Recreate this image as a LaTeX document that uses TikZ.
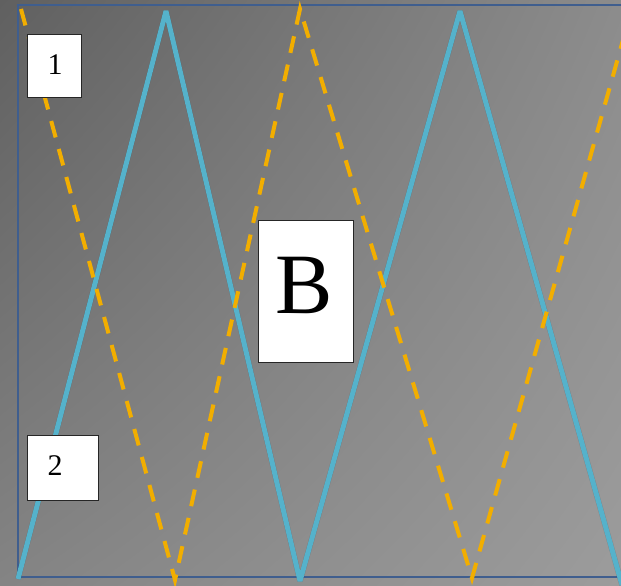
\documentclass[tikz,border=0pt]{standalone}
\usepackage{fontspec}
\setmainfont{Liberation Serif}
\usetikzlibrary{shadings}
\definecolor{zigblue}{HTML}{55B2CB}
\definecolor{zigorange}{HTML}{F2AE00}
\definecolor{framecol}{HTML}{3F5E8E}
\definecolor{bgUL}{RGB}{96,96,96}
\definecolor{bgUR}{RGB}{140,140,140}
\definecolor{bgLL}{RGB}{132,132,132}
\definecolor{bgLR}{RGB}{156,156,156}
\tikzset{
  whitebox/.style={draw=black!85, line width=1.3pt, fill=white, anchor=north west, inner sep=0pt},
  bluezig/.style={draw=zigblue, line width=5pt, line join=bevel},
  orangezig/.style={draw=zigorange, line width=4pt, dash pattern=on 17pt off 12pt},
  framestyle/.style={draw=framecol, line width=2.2pt},
  lbl/.style={inner sep=0pt, font=\fontsize{30}{30}\selectfont}
}
\begin{document}
\begin{tikzpicture}[x=1pt,y=-1pt]
\useasboundingbox (0,0) rectangle (621,586);
\clip (0,0) rectangle (621,586);
\shade[upper left=bgUL, upper right=bgUR, lower left=bgLL, lower right=bgLR]
  (0,0) rectangle (621,586);
% frame
\coordinate (f1) at (640,5);
\coordinate (f2) at (18,5);
\coordinate (f3) at (18,577);
\coordinate (f4) at (640,577);
\draw[framestyle] (f1) -- (f2) -- (f3) -- (f4);
% blue zigzag
\coordinate (b0) at (18,579);
\coordinate (b1) at (166,11);
\coordinate (b2) at (300,581);
\coordinate (b3) at (460,11);
\coordinate (b4) at (622,585);
\draw[black, opacity=0.15, line width=5.5pt, line join=bevel, xshift=1.5pt, yshift=-1.5pt] (b0) -- (b1) -- (b2) -- (b3) -- (b4);
\draw[bluezig] (b0) -- (b1) -- (b2) -- (b3) -- (b4);
% orange dashed zigzag
\coordinate (o0) at (21,9);
\coordinate (o1) at (175,580);
\coordinate (o2) at (300,9);
\coordinate (o3) at (472,578);
\coordinate (o4) at (632,8);
\draw[orangezig] (o0) -- (o1) -- (o2) -- (o3) -- (o4);
% boxes
\node[whitebox, minimum width=54pt, minimum height=63pt] (box1) at (27,34) {};
\node[lbl] (t1) at (55,65) {1};
\node[whitebox, minimum width=71pt, minimum height=65pt] (box2) at (27,435) {};
\node[lbl] (t2) at (55,466) {2};
\node[whitebox, minimum width=95pt, minimum height=142pt] (boxB) at (258,220) {};
\node[inner sep=0pt, font=\fontsize{86}{86}\selectfont] (tB) at (304,285) {B};
\end{tikzpicture}
\end{document}
